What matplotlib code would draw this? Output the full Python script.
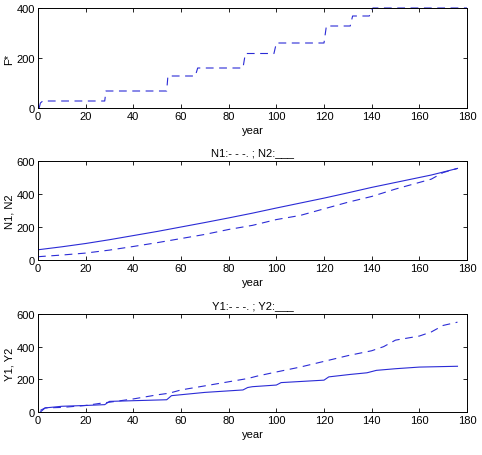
import matplotlib
matplotlib.use("Agg")
import matplotlib.pyplot as plt

plt.rcParams['font.family'] = ['Liberation Sans', 'DejaVu Sans']
plt.rcParams['font.size'] = 8

# F* steps
f_year = [0.5, 1, 2, 28, 28.5, 54, 54.5, 66, 67, 86, 87, 99, 100, 120, 121, 131, 132, 139, 140.5, 180]
f_val = [0, 20, 28, 28, 68, 68, 128, 128, 160, 160, 218, 218, 260, 260, 328, 328, 368, 368, 400, 400]

# N1 (dashed), N2 (solid)
n_year = [0, 10, 20, 30, 40, 50, 60, 70, 80, 90, 100, 110, 120, 130, 140, 150, 160, 165, 170, 176]
n1 = [20, 30, 42, 60, 82, 105, 130, 155, 185, 210, 245, 270, 310, 350, 385, 430, 470, 490, 530, 555]
n2 = [62, 80, 100, 123, 148, 173, 200, 227, 255, 284, 315, 345, 375, 407, 440, 470, 500, 515, 533, 555]

# Y1 (dashed), Y2 (solid)
y1_year = [1, 3, 10, 20, 27, 30, 40, 50, 55, 60, 70, 80, 88, 92, 100, 110, 120, 130, 140, 145, 150, 160, 165, 170, 176]
y1 = [10, 25, 28, 40, 55, 60, 80, 105, 115, 135, 160, 185, 205, 220, 245, 275, 310, 345, 375, 400, 440, 465, 490, 530, 550]
y2_year = [1, 3, 10, 20, 28, 30, 54, 56, 70, 86, 88, 90, 100, 102, 120, 122, 131, 138, 142, 150, 160, 176]
y2 = [0, 25, 35, 40, 45, 65, 75, 100, 120, 135, 150, 155, 165, 180, 195, 215, 230, 240, 255, 265, 275, 280]

col = '#2b2bd6'
dash = (0, (7, 5))

fig = plt.figure(figsize=(4.82, 4.56), dpi=100)
W, H = 482, 456
boxes = [(38, 9, 467, 109), (38, 162, 467, 261), (38, 315, 467, 413)]
axs = []
for x0, y0, x1, y1p in boxes:
    ax = fig.add_axes([x0 / W, 1 - y1p / H, (x1 - x0) / W, (y1p - y0) / H])
    axs.append(ax)

axs[0].plot(f_year, f_val, color=col, lw=0.8, linestyle=dash, clip_on=False)
axs[0].set_ylim(0, 400)
axs[0].set_yticks([0, 200, 400])
axs[0].set_ylabel('F*')

axs[1].plot(n_year, n1, color=col, lw=0.8, linestyle=dash)
axs[1].plot(n_year, n2, color=col, lw=0.8)
axs[1].set_ylim(0, 600)
axs[1].set_yticks([0, 200, 400, 600])
axs[1].set_ylabel('N1, N2')
axs[1].set_title('N1:- - -. ; N2:___', fontsize=8, pad=4)

axs[2].plot(y1_year, y1, color=col, lw=0.8, linestyle=dash)
axs[2].plot(y2_year, y2, color=col, lw=0.8)
axs[2].set_ylim(0, 600)
axs[2].set_yticks([0, 200, 400, 600])
axs[2].set_ylabel('Y1, Y2')
axs[2].set_title('Y1:- - -. ; Y2:___', fontsize=8, pad=4)

for ax in axs:
    ax.set_xlim(0, 180)
    ax.set_xticks(range(0, 181, 20))
    ax.set_xlabel('year', labelpad=3)
    ax.yaxis.set_label_coords(-0.055, 0.5)
    ax.tick_params(direction='in', length=3, width=0.6, top=True, right=True, pad=2)
    for s in ax.spines.values():
        s.set_linewidth(0.7)

fig.savefig('out.png', dpi=100)
